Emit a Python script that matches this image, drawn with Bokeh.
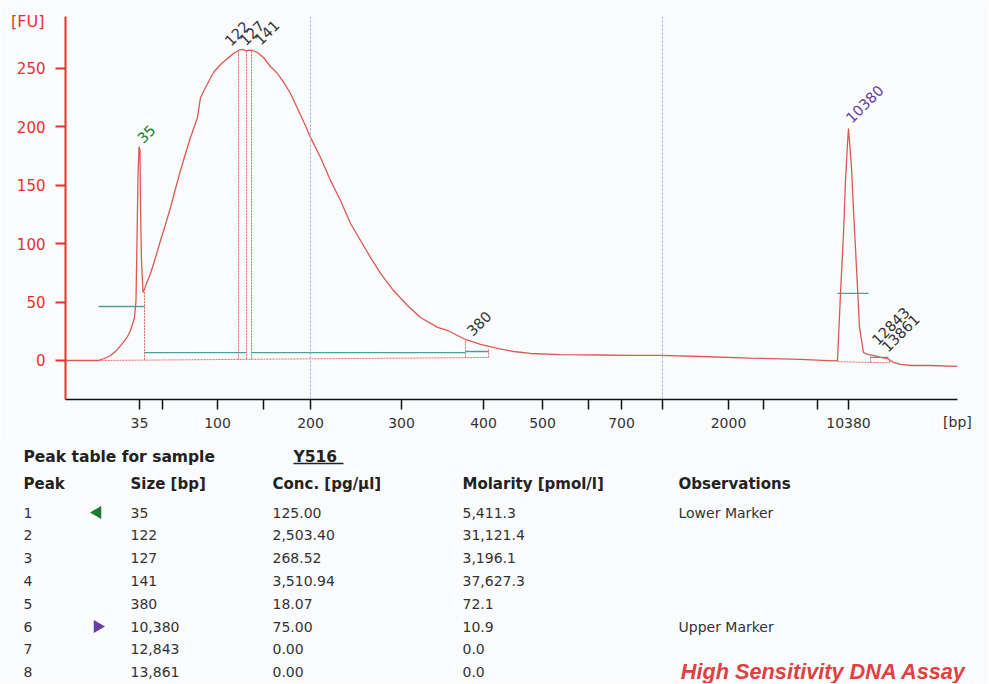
import math
from bokeh.plotting import figure
from bokeh.models import Range1d, FixedTicker, ColumnDataSource, Span, LinearAxis
from bokeh.layouts import column
from bokeh.core.properties import value
from bokeh.embed import file_html
from bokeh.resources import INLINE

# ---------------- data: electropherogram trace (migration time [s] vs FU) ----------------
trace_time = [6.5, 9.8, 10.4, 11.0, 11.6, 12.2, 12.7, 13.0, 13.4, 13.55, 13.65, 13.75, 13.85, 13.95,
              14.0, 14.1, 14.25, 14.35, 14.6, 15.0, 15.5, 16.0, 16.5, 17.0, 17.5, 18.0, 18.5, 19.0,
              19.7, 20.0, 20.5, 21.3, 22.0, 22.7, 23.3, 23.8, 24.2, 24.6, 24.9, 25.2, 25.7, 26.3,
              27.0, 27.7, 28.4, 29.0, 29.7, 30.5, 31.0, 32.0, 33.0, 34.0, 35.0, 36.0, 37.0, 38.0,
              39.3, 40.7, 42.0, 43.7, 44.7, 46.5, 48.0, 49.7, 51.3, 53.0, 56.0, 60.0, 63.0, 66.0,
              70.0, 75.0, 80.0, 83.3, 83.7, 84.0, 84.3, 84.5, 84.7, 84.8, 85.1, 85.3, 85.6, 85.9,
              86.3, 86.8, 87.3, 88.0, 88.7, 89.3, 90.0, 91.0, 93.0, 95.7]
trace_fu = [0, 0, 1.7, 4.3, 8.6, 14.6, 20.5, 25.7, 36.8, 51, 103, 158, 183, 180,
            131, 85.6, 58.2, 60, 66, 74.5, 88, 102.7, 116.4, 131, 147, 162.7, 177, 190.9,
            208, 225, 233.7, 246.6, 253.4, 258.6, 262.8, 265.4, 266.3, 265, 265.8, 265.4, 263.7, 259.4,
            251.7, 245.7, 237, 228.6, 215.8, 201, 191, 173.8, 154, 137, 117.3, 102.7, 88.2, 74.5,
            59.9, 47.1, 36.8, 28.3, 25.7, 18, 13.7, 10.3, 7.7, 6, 5.1, 4.7, 4.3, 4.3,
            3.4, 2.1, 0.9, -0.4, 0, 57.4, 108.7, 154, 185.8, 198.6, 165, 128.4, 79.6, 28.3,
            6.8, 5.1, 4.3, 2.6, 1.7, -1.7, -3.4, -4.3, -4.3, -5.1]

# ladder (x axis ticks)
ladder_time = [13.9, 16.2, 21.7, 26.3, 31.0, 40.1, 48.3, 54.2, 58.8, 62.1, 66.2, 72.8, 76.3, 81.7, 84.8]
ladder_bp = [35, 50, 100, 150, 200, 300, 400, 500, 600, 700, 1000, 2000, 3000, 7000, 10380]
ladder_labelled = [1, 0, 1, 0, 1, 1, 1, 1, 0, 1, 0, 1, 0, 0, 1]
fu_ticks = [0, 50, 100, 150, 200, 250]

# region of interest boundaries (200 bp .. 1000 bp)
region_time = [31.0, 66.2]

# peaks
peak_names = ["35", "122", "127", "141", "380", "10380", "12843", "13861"]
peak_time = [13.85, 23.8, 24.6, 25.1, 46.5, 84.8, 87.0, 88.0]
peak_fu = [183, 265.4, 265, 265.4, 18, 198.6, 4.3, 2.6]
peak_kind = ["lower", "", "", "", "", "upper", "", ""]

# peak integration lines: baselines and boundaries (time, FU)
base_x0 = [9.8, 83.7, 14.4, 23.8, 24.6, 25.1, 46.5, 48.8, 87.0, 88.9]
base_y0 = [0.0, -1.0, 0.3, 0.9, 1.0, 1.0, 2.4, 2.6, -1.6, -2.0]
base_x1 = [48.8, 88.9, 14.4, 23.8, 24.6, 25.1, 46.5, 48.8, 87.0, 88.9]
base_y1 = [2.6, -2.0, 58.5, 265.4, 265.0, 265.4, 18.0, 10.0, 4.3, 1.5]
# peak width markers
width_x0 = [9.8, 14.4, 25.1, 46.5, 83.7, 87.0]
width_x1 = [14.4, 24.6, 46.5, 48.8, 86.8, 88.8]
width_fu = [46.2, 6.8, 6.8, 7.7, 57.4, 2.6]

# peak table
sample_name = "Y516"
table_peak = ["1", "2", "3", "4", "5", "6", "7", "8"]
table_size = ["35", "122", "127", "141", "380", "10,380", "12,843", "13,861"]
table_conc = ["125.00", "2,503.40", "268.52", "3,510.94", "18.07", "75.00", "0.00", "0.00"]
table_molarity = ["5,411.3", "31,121.4", "3,196.1", "37,627.3", "72.1", "10.9", "0.0", "0.0"]
table_obs = ["Lower Marker", "", "", "", "", "Upper Marker", "", ""]
table_headers = ["Peak", "Size [bp]", "Conc. [pg/\u00b5l]", "Molarity [pmol/l]", "Observations"]

# ---------------- styles ----------------
BG = "#fafbfd"
RED_AX = "#e8312c"
TRACE = "#d95a52"
TEAL = "#4f9f96"
DOT = "#e06a64"
GREY_DOT = "#9ea3cc"
TXT = "#333333"
GREEN = "#1b7a2f"
PURPLE = "#653fa3"
FONT = "DejaVu Sans"
W = 988

p = figure(width=W, height=440, x_range=Range1d(6.5, 95.7), y_range=Range1d(-33.4, 294.5),
           output_backend="svg", toolbar_location=None,
           min_border_left=65, min_border_right=W - 957, min_border_top=16, min_border_bottom=41)
p.background_fill_color = BG
p.border_fill_color = BG
p.outline_line_color = None
p.grid.visible = False

# axes
p.yaxis.ticker = FixedTicker(ticks=fu_ticks)
p.yaxis.axis_line_color = RED_AX
p.yaxis.axis_line_width = 2
p.yaxis.major_tick_line_color = RED_AX
p.yaxis.major_tick_line_width = 2
p.yaxis.major_tick_out = 10
p.yaxis.major_tick_in = 0
p.yaxis.minor_tick_line_color = None
p.yaxis.major_label_text_color = RED_AX
p.yaxis.major_label_text_font = FONT
p.yaxis.major_label_text_font_size = "15px"
p.yaxis.major_label_standoff = 10

p.xaxis.ticker = FixedTicker(ticks=ladder_time)
p.xaxis.major_label_overrides = {t: (str(b) if s else "") for t, b, s in zip(ladder_time, ladder_bp, ladder_labelled)}
p.xaxis.axis_line_color = "#111111"
p.xaxis.axis_line_width = 1.5
p.xaxis.major_tick_line_color = "#111111"
p.xaxis.major_tick_line_width = 1.5
p.xaxis.major_tick_out = 10
p.xaxis.major_tick_in = 0
p.xaxis.minor_tick_line_color = None
p.xaxis.major_label_text_color = TXT
p.xaxis.major_label_text_font = FONT
p.xaxis.major_label_text_font_size = "14px"
p.xaxis.major_label_standoff = 8

# unit captions as label-only axes
fu_pos = 290.2
ax_fu = LinearAxis(ticker=FixedTicker(ticks=[fu_pos]), major_label_overrides={fu_pos: "[FU]"},
                   axis_line_color=None, major_tick_line_color=None, minor_tick_line_color=None,
                   major_tick_out=0, major_tick_in=0, minor_tick_out=0, major_label_standoff=-31,
                   major_label_text_color=RED_AX, major_label_text_font=FONT,
                   major_label_text_font_size="16px")
p.add_layout(ax_fu, "left")
bp_pos = 95.69
ax_bp = LinearAxis(ticker=FixedTicker(ticks=[bp_pos]), major_label_overrides={bp_pos: "[bp]"},
                   axis_line_color=None, major_tick_line_color=None, minor_tick_line_color=None,
                   major_tick_out=0, major_tick_in=0, minor_tick_out=0, major_label_standoff=-17,
                   major_label_text_color=TXT, major_label_text_font=FONT,
                   major_label_text_font_size="14px")
p.add_layout(ax_bp, "below")

# region lines
for t in region_time:
    p.add_layout(Span(location=t, dimension="height", line_color=GREY_DOT, line_dash="2 2", line_width=1))

# integration lines
p.segment(x0=base_x0, y0=base_y0, x1=base_x1, y1=base_y1, line_color=DOT, line_dash="2 1", line_width=1)
p.segment(x0=width_x0, y0=width_fu, x1=width_x1, y1=width_fu, line_color=TEAL, line_width=1.3)

# trace
p.line(trace_time, trace_fu, line_color=TRACE, line_width=1.3)

# peak labels
lab_color = [GREEN if k == "lower" else (PURPLE if k == "upper" else TXT) for k in peak_kind]
lab_dx = [1, -11, -4, 6, 4, 0, 4, 4]
lab_dy = [-6, -7, -8, -8, -6, -8, -13, -8]
src = ColumnDataSource(dict(x=peak_time, y=peak_fu, t=peak_names, c=lab_color, dx=lab_dx, dy=lab_dy))
p.text(x="x", y="y", text="t", source=src, text_color="c", angle=math.pi / 4,
       x_offset="dx", y_offset="dy", text_align="left", text_baseline="alphabetic",
       text_font=value(FONT), text_font_size="14.5px")

# ---------------- table figure (page pixel coordinates) ----------------
tb = figure(width=W, height=243, x_range=Range1d(0, W), y_range=Range1d(683, 440),
            output_backend="svg", toolbar_location=None, min_border=0,
            x_axis_location=None, y_axis_location=None)
tb.background_fill_color = BG
tb.border_fill_color = BG
tb.outline_line_color = None
tb.grid.visible = False

for fig in (p, tb):
    if "frame_align" in fig.properties():
        fig.frame_align = False

tb.text(x=[23], y=[456], text=["Peak table for sample"], text_font=value(FONT), text_font_style="bold",
        text_font_size="15.5px", text_color="#222222", text_baseline="middle")
tb.text(x=[293], y=[456], text=[sample_name], text_font=value(FONT), text_font_style="bold",
        text_font_size="15.5px", text_color="#222222", text_baseline="middle")
tb.segment(x0=[293], y0=[463], x1=[343], y1=[463], line_color="#222222", line_width=1.3)

col_x = [23, 130, 272, 462, 678]
tb.text(x=col_x, y=[483] * 5, text=table_headers, text_font=value(FONT), text_font_style="bold",
        text_font_size="15px", text_color="#222222", text_baseline="middle")

row_y = [512 + 22.8 * i for i in range(len(table_peak))]
for cx, colvals in zip(col_x, [table_peak, table_size, table_conc, table_molarity, table_obs]):
    tb.text(x=[cx] * len(colvals), y=row_y, text=colvals, text_font=value(FONT),
            text_font_size="14px", text_color=TXT, text_baseline="middle")

mk_y = [y for y, k in zip(row_y, peak_kind) if k]
mk_ang = [math.pi / 2 if k == "lower" else -math.pi / 2 for k in peak_kind if k]
mk_col = [GREEN if k == "lower" else PURPLE for k in peak_kind if k]
tb.scatter(x=[97] * len(mk_y), y=mk_y, marker="triangle", size=13, angle=mk_ang,
           fill_color=mk_col, line_color=None)

tb.text(x=[966], y=[671], text=["High Sensitivity DNA Assay"], text_font=value("Liberation Sans"),
        text_font_style="bold italic", text_font_size="21.7px", text_color="#e0403f",
        text_align="right", text_baseline="middle")

layout = column(p, tb, spacing=0)
open("out.html", "w").write(file_html(layout, INLINE))
